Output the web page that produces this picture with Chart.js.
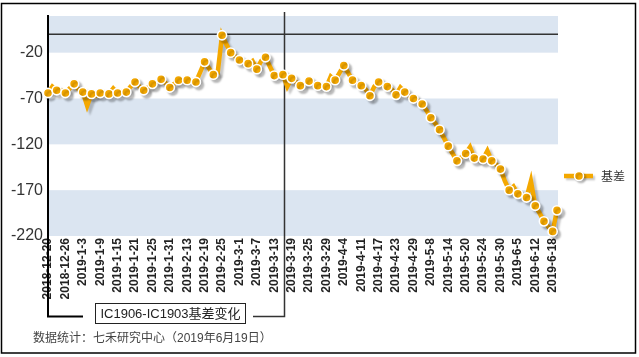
<!DOCTYPE html>
<html><head><meta charset="utf-8">
<script src="https://cdn.jsdelivr.net/npm/chart.js@4"></script>
<style>html,body{margin:0;padding:0;background:#fff;}</style>
</head><body>
<canvas id="c" width="639" height="357"></canvas>
<script>
const dates = [
 '2018-12-20','2018-12-21','2018-12-24','2018-12-25','2018-12-26','2018-12-27','2018-12-28',
 '2019-1-2','2019-1-3','2019-1-4','2019-1-7','2019-1-8','2019-1-9','2019-1-10','2019-1-11','2019-1-14','2019-1-15','2019-1-16','2019-1-17','2019-1-18','2019-1-21','2019-1-22','2019-1-23','2019-1-24','2019-1-25','2019-1-28','2019-1-29','2019-1-30','2019-1-31',
 '2019-2-1','2019-2-11','2019-2-12','2019-2-13','2019-2-14','2019-2-15','2019-2-18','2019-2-19','2019-2-20','2019-2-21','2019-2-22','2019-2-25','2019-2-26','2019-2-27','2019-2-28',
 '2019-3-1','2019-3-4','2019-3-5','2019-3-6','2019-3-7','2019-3-8','2019-3-11','2019-3-12','2019-3-13','2019-3-14','2019-3-15','2019-3-18','2019-3-19','2019-3-20','2019-3-21','2019-3-22','2019-3-25','2019-3-26','2019-3-27','2019-3-28','2019-3-29',
 '2019-4-1','2019-4-2','2019-4-3','2019-4-4','2019-4-8','2019-4-9','2019-4-10','2019-4-11','2019-4-12','2019-4-15','2019-4-16','2019-4-17','2019-4-18','2019-4-19','2019-4-22','2019-4-23','2019-4-24','2019-4-25','2019-4-26','2019-4-29','2019-4-30',
 '2019-5-6','2019-5-7','2019-5-8','2019-5-9','2019-5-10','2019-5-13','2019-5-14','2019-5-15','2019-5-16','2019-5-17','2019-5-20','2019-5-21','2019-5-22','2019-5-23','2019-5-24','2019-5-27','2019-5-28','2019-5-29','2019-5-30','2019-5-31',
 '2019-6-3','2019-6-4','2019-6-5','2019-6-6','2019-6-10','2019-6-11','2019-6-12','2019-6-13','2019-6-14','2019-6-17','2019-6-18','2019-6-19'
];
const basis = [
 -64,-57,-61,-61,-64,-59,-54,-60,-63,-78,
 -65,-67,-64,-64,-65,-59,-64,-63,-63,-57,
 -52,-57,-61,-58,-54,-52,-49,-53,-58,-54,
 -50,-50,-50,-51,-52,-41,-30,-37,-44,-42,
 -1,-11,-20,-24,-28,-30,-32,-29,-38,-29,
 -25,-35,-45,-44,-44,-57,-48,-52,-56,-54,
 -51,-53,-56,-56,-57,-46,-50,-42,-34,-42,
 -50,-53,-56,-60,-67,-57,-52,-55,-57,-60,
 -66,-58,-63,-67,-70,-72,-76,-83,-91,-97,
 -104,-113,-122,-130,-138,-134,-130,-123,-135,-137,
 -136,-127,-138,-142,-147,-160,-170,-166,-174,-176,
 -178,-160,-187,-195,-204,-210,-215,-192
];
const yTicks = [-220,-170,-120,-70,-20];
const yMin = -220, yMax = 20;
const labelEvery = 4;
const rollIndex = 54;
const zeroLine = 0;
const seriesName = '基差';
const boxTitle = 'IC1906-IC1903基差变化';
const footerText = '数据统计：七禾研究中心（2019年6月19日）';

const ORANGE = '#F4A800';
const BAND = '#DBE5F1';

const bgPlugin = {
  id: 'bg',
  beforeDraw(chart) {
    const ctx = chart.ctx, a = chart.chartArea, y = chart.scales.y;
    ctx.save();
    ctx.fillStyle = '#fff';
    ctx.fillRect(0, 0, chart.width, chart.height);
    const edges = yTicks.concat([yMax]);
    ctx.fillStyle = BAND;
    for (let k = 0; k < edges.length - 1; k += 2) {
      const y1 = y.getPixelForValue(edges[k]);
      const y2 = y.getPixelForValue(edges[k + 1]);
      ctx.fillRect(a.left, y2, a.right - a.left + 1, y1 - y2);
    }
    ctx.restore();
  },
  beforeDatasetsDraw(chart) {
    const ctx = chart.ctx, a = chart.chartArea, x = chart.scales.x, y = chart.scales.y;
    ctx.save();
    const y0 = y.getPixelForValue(zeroLine);
    ctx.strokeStyle = '#333';
    ctx.lineWidth = 1.5;
    ctx.beginPath(); ctx.moveTo(a.left, y0); ctx.lineTo(a.right + 1, y0); ctx.stroke();
    const xr = Math.round(x.getPixelForValue(rollIndex)) + 1.5;
    const yb = 316.5;
    ctx.strokeStyle = '#333';
    ctx.lineWidth = 1.5;
    ctx.beginPath(); ctx.moveTo(xr, 12); ctx.lineTo(xr, yb); ctx.lineTo(253, yb); ctx.stroke();
    ctx.strokeStyle = '#000';
    ctx.lineWidth = 2;
    ctx.beginPath(); ctx.moveTo(a.left, 15); ctx.lineTo(a.left, yb); ctx.lineTo(83, yb); ctx.stroke();
    ctx.restore();
  },
  beforeDatasetDraw(chart) {
    const ctx = chart.ctx;
    ctx.save();
    ctx.shadowColor = 'rgba(0,0,0,0.22)';
    ctx.shadowOffsetX = 3; ctx.shadowOffsetY = 3; ctx.shadowBlur = 2;
  },
  afterDatasetDraw(chart) { chart.ctx.restore(); },
  afterDraw(chart) {
    const ctx = chart.ctx;
    ctx.save();
    ctx.fillStyle = '#fff';
    ctx.fillRect(95.5, 303.5, 150, 20);
    ctx.strokeStyle = '#222'; ctx.lineWidth = 1;
    ctx.strokeRect(95.5, 303.5, 150, 20);
    ctx.fillStyle = '#222';
    ctx.font = '13px "Liberation Sans", "Noto Sans CJK SC", sans-serif';
    ctx.textAlign = 'center'; ctx.textBaseline = 'middle';
    ctx.fillText(boxTitle, 170.5, 314);
    ctx.fillStyle = '#444';
    ctx.font = '12px "Liberation Sans", "Noto Sans CJK SC", sans-serif';
    ctx.textAlign = 'left';
    ctx.fillText(footerText, 33, 339);
    const ly = 176;
    ctx.save();
    ctx.shadowColor = 'rgba(0,0,0,0.22)'; ctx.shadowOffsetX = 2; ctx.shadowOffsetY = 2; ctx.shadowBlur = 2;
    ctx.strokeStyle = ORANGE; ctx.lineWidth = 4.5; ctx.lineCap = 'butt';
    ctx.beginPath(); ctx.moveTo(564, ly); ctx.lineTo(593, ly); ctx.stroke();
    ctx.fillStyle = ORANGE; ctx.strokeStyle = '#fff'; ctx.lineWidth = 1.5;
    ctx.beginPath(); ctx.arc(579, ly, 4.5, 0, Math.PI * 2); ctx.fill(); ctx.stroke();
    ctx.restore();
    ctx.fillStyle = '#333';
    ctx.font = '12px "Noto Sans CJK SC", sans-serif';
    ctx.textAlign = 'left'; ctx.textBaseline = 'middle';
    ctx.fillText(chart.data.datasets[0].label, 601, ly);
    ctx.strokeStyle = '#000'; ctx.lineWidth = 1.5;
    ctx.strokeRect(1.5, 3.5, 634, 349.5);
    ctx.restore();
  }
};

const showMarker = (c) => (c.index % 2 === 0 || c.index === basis.length - 1) ? 4.6 : 0;

new Chart(document.getElementById('c'), {
  type: 'line',
  data: {
    labels: dates,
    datasets: [{
      label: seriesName,
      data: basis,
      borderColor: ORANGE,
      backgroundColor: ORANGE,
      borderWidth: 4.5,
      tension: 0,
      pointBackgroundColor: ORANGE,
      pointBorderColor: '#fff',
      pointBorderWidth: 1.6,
      pointRadius: showMarker,
      pointHoverRadius: showMarker,
      clip: false
    }]
  },
  options: {
    responsive: false,
    animation: false,
    devicePixelRatio: 1,
    layout: { padding: { left: 0, top: 16, right: 82, bottom: 0 } },
    plugins: { legend: { display: false }, tooltip: { enabled: false } },
    scales: {
      x: {
        type: 'category',
        offset: false,
        grid: { display: false, drawTicks: false },
        border: { display: false },
        afterFit(s) { s.height = 121; },
        ticks: {
          autoSkip: false,
          maxRotation: 90, minRotation: 90,
          padding: 2,
          color: '#222',
          font: { family: '"Liberation Sans", Arial, sans-serif', size: 12, weight: 'bold' },
          callback: (v, i) => (i % labelEvery === 0 ? dates[i] : '')
        }
      },
      y: {
        min: yMin, max: yMax,
        grid: { display: false, drawTicks: false },
        border: { display: false },
        afterFit(s) { s.width = 48; },
        afterBuildTicks(s) { s.ticks = yTicks.map(v => ({ value: v })); },
        ticks: {
          padding: 5,
          color: '#333',
          font: { family: '"Liberation Sans", Arial, sans-serif', size: 16 }
        }
      }
    }
  },
  plugins: [bgPlugin]
});
</script>
</body></html>
